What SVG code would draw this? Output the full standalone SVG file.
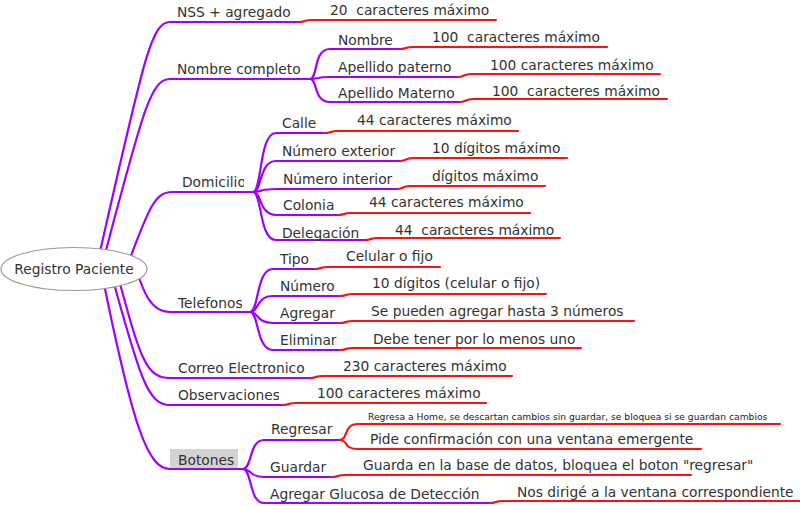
<svg xmlns="http://www.w3.org/2000/svg" width="800" height="506" viewBox="0 0 800 506">
<style>
text{font-family:"DejaVu Sans","Liberation Sans",sans-serif;font-size:13.8px;fill:#333;white-space:pre}
.small{font-size:9.2px;fill:#222}
.p{fill:none;stroke:#a000ff;stroke-width:2.2;stroke-linecap:round}
.r{fill:none;stroke:#ff1010;stroke-width:2.2;stroke-linecap:round}
</style>
<defs>
<clipPath id="cDom"><rect x="170" y="170" width="74" height="22"/></clipPath>
<clipPath id="cTel"><rect x="170" y="290" width="72" height="22"/></clipPath>
<clipPath id="cObs"><rect x="170" y="385" width="109" height="20"/></clipPath>
<clipPath id="cNext"><rect x="275" y="140" width="121" height="20"/></clipPath>
</defs>
<rect width="800" height="506" fill="#fff"/>
<g id="connectors">
<path class="p" d="M96 269 C142 69 150 22 170 22 L299 22"/>
<path class="p" d="M101 269 C142 115 150 79 170 79 L310 79"/>
<path class="p" d="M126 269 C149 207 155 192 172 192 L253 192"/>
<path class="p" d="M136 269 C143 290 150 312 170 312 L250 312"/>
<path class="p" d="M116 269 C140 357 145 378 170 378 L310 378"/>
<path class="p" d="M110 269 C140 379 148 405 170 405 L283 405"/>
<path class="p" d="M101 269 C133 429 148 469 170 469 L243 469"/>
<path class="p" d="M310 79 C318 79 313 49 330 49 L400 49"/>
<path class="p" d="M310 79 C318 79 316 77 330 77 L458 77"/>
<path class="p" d="M310 79 C318 79 313 102 330 102 L460 102"/>
<path class="p" d="M253 192 C262 192 259 133 276 133 L325 133"/>
<path class="p" d="M253 192 C262 192 259 161 276 161 L400 161"/>
<path class="p" d="M253 192 C262 192 259 189 276 189 L397 189"/>
<path class="p" d="M253 192 C262 192 259 215 276 215 L338 215"/>
<path class="p" d="M253 192 C262 192 259 240 276 240 L365 240"/>
<path class="p" d="M250 312 C259 312 256 269 273 269 L315 269"/>
<path class="p" d="M250 312 C259 312 256 296 273 296 L340 296"/>
<path class="p" d="M250 312 C259 312 256 323 273 323 L340 323"/>
<path class="p" d="M250 312 C259 312 256 350 273 350 L340 350"/>
<path class="p" d="M243 469 C252 469 249 440 264 440 L340 440"/>
<path class="p" d="M243 469 C252 469 249 477 264 477 L332 477"/>
<path class="p" d="M243 469 C252 469 249 503 264 503 L490 503"/>
<path class="r" d="M299 22 C305 22 304 20 312 20 L496 20"/>
<path class="r" d="M400 49 C406 49 405 47 413 47 L607 47"/>
<path class="r" d="M458 77 C464 77 463 74 471 74 L660 74"/>
<path class="r" d="M460 102 C466 102 465 99 473 99 L667 99"/>
<path class="r" d="M325 133 C331 133 330 131 338 131 L518 131"/>
<path class="r" d="M400 161 C406 161 405 158 413 158 L567 158"/>
<path class="r" d="M397 189 C403 189 402 186 410 186 L545 186"/>
<path class="r" d="M338 215 C344 215 343 213 351 213 L530 213"/>
<path class="r" d="M365 240 C371 240 370 238 378 238 L560 238"/>
<path class="r" d="M315 269 C321 269 320 267 328 267 L440 267"/>
<path class="r" d="M340 296 C346 296 345 294 353 294 L546 294"/>
<path class="r" d="M340 323 C346 323 345 321 353 321 L634 321"/>
<path class="r" d="M340 350 C346 350 345 348 353 348 L581 348"/>
<path class="r" d="M310 378 C316 378 315 376 323 376 L512 376"/>
<path class="r" d="M283 405 C289 405 288 403 296 403 L486 403"/>
<path class="r" d="M339 440 C349 440 343 424 358 424 L780 424"/>
<path class="r" d="M339 440 C349 440 343 449 358 449 L701 449"/>
<path class="r" d="M332 477 C338 477 337 475 345 475 L691 475"/>
<path class="r" d="M490 503 C496 503 495 501 503 501 L800 501"/>
</g>
<g id="root"><ellipse cx="74" cy="269" rx="73" ry="21.5" fill="#fff" stroke="#999" stroke-width="1.2"/><text x="74" y="274" text-anchor="middle">Registro Paciente</text></g>
<g id="nss"><text x="177" y="17">NSS + agregado</text></g>
<g id="nss-1"><text x="330" y="15">20  caracteres máximo</text></g>
<g id="nombre-completo"><text x="177" y="74">Nombre completo</text></g>
<g id="nombre"><text x="338" y="45">Nombre</text></g>
<g id="nombre-1"><text x="432" y="42">100  caracteres máximo</text></g>
<g id="paterno"><text x="338" y="72">Apellido paterno</text></g>
<g id="paterno-1"><text x="490" y="70">100 caracteres máximo</text></g>
<g id="materno"><text x="338" y="98">Apellido Materno</text></g>
<g id="materno-1"><text x="492" y="96">100  caracteres máximo</text></g>
<g id="domicilio"><text x="182" y="187" clip-path="url(#cDom)">Domicilio</text></g>
<g id="calle"><text x="282" y="128">Calle</text></g>
<g id="calle-1"><text x="357" y="125">44 caracteres máximo</text></g>
<g id="num-ext"><text x="282" y="156" clip-path="url(#cNext)">Número exterior</text></g>
<g id="num-ext-1"><text x="432" y="153">10 dígitos máximo</text></g>
<g id="num-int"><text x="283" y="184">Número interior</text></g>
<g id="num-int-1"><text x="432" y="181">dígitos máximo</text></g>
<g id="colonia"><text x="283" y="210">Colonia</text></g>
<g id="colonia-1"><text x="369" y="207">44 caracteres máximo</text></g>
<g id="delegacion"><text x="282" y="238">Delegación</text></g>
<g id="delegacion-1"><text x="395" y="235">44  caracteres máximo</text></g>
<g id="telefonos"><text x="178" y="308" clip-path="url(#cTel)">Telefonos</text></g>
<g id="tipo"><text x="280" y="264">Tipo</text></g>
<g id="tipo-1"><text x="346" y="261">Celular o fijo</text></g>
<g id="numero"><text x="280" y="291">Número</text></g>
<g id="numero-1"><text x="372" y="288">10 dígitos (celular o fijo)</text></g>
<g id="agregar"><text x="280" y="318">Agregar</text></g>
<g id="agregar-1"><text x="371" y="316">Se pueden agregar hasta 3 números</text></g>
<g id="eliminar"><text x="280" y="345">Eliminar</text></g>
<g id="eliminar-1"><text x="373" y="344">Debe tener por lo menos uno</text></g>
<g id="correo"><text x="178" y="373">Correo Electronico</text></g>
<g id="correo-1"><text x="343" y="371">230 caracteres máximo</text></g>
<g id="observaciones"><text x="178" y="400" clip-path="url(#cObs)">Observaciones</text></g>
<g id="observaciones-1"><text x="317" y="398">100 caracteres máximo</text></g>
<g id="botones"><rect x="170" y="449" width="68" height="19" fill="#d3d3d3"/><text x="178" y="465">Botones</text></g>
<g id="regresar"><text x="271" y="434">Regresar</text></g>
<g id="regresar-1"><text class="small" x="368" y="420">Regresa a Home, se descartan cambios sin guardar, se bloquea si se guardan cambios</text></g>
<g id="regresar-2"><text x="370" y="444">Pide confirmación con una ventana emergente</text></g>
<g id="guardar"><text x="270" y="472">Guardar</text></g>
<g id="guardar-1"><text x="363" y="470">Guarda en la base de datos, bloquea el boton "regresar"</text></g>
<g id="glucosa"><text x="270" y="499">Agregar Glucosa de Detección</text></g>
<g id="glucosa-1"><text x="517" y="497">Nos dirigé a la ventana correspondiente</text></g>
</svg>
